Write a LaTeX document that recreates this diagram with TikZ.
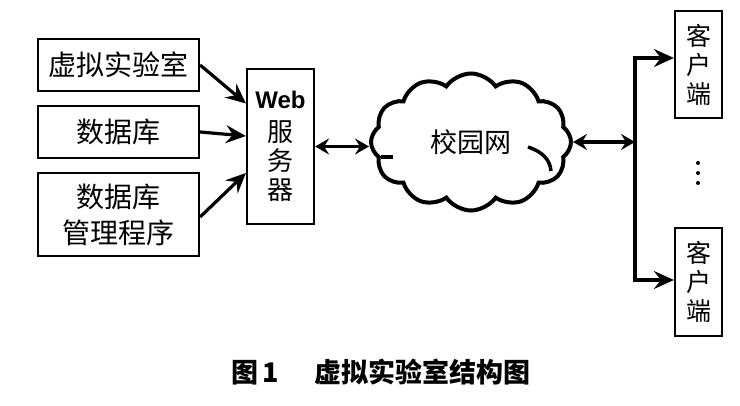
\documentclass[tikz,border=0pt]{standalone}
\usepackage{fontspec}
\setmainfont{Noto Sans CJK SC}
\newfontfamily\webfont{Liberation Sans}
\usetikzlibrary{arrows.meta,shapes.symbols}
\begin{document}
\begin{tikzpicture}[x=1pt,y=-1pt,
  box/.style={draw,line width=2.2pt,inner sep=0pt,align=center},
  big/.style={font=\fontsize{28}{36}\selectfont},
  cli/.style={font=\fontsize{25}{29}\selectfont},
  arr/.style={line width=3.2pt,-{Stealth[length=20pt,width=18pt,inset=7pt]}},
  darr/.style={line width=3.2pt,{Stealth[length=14pt,width=16pt,inset=5pt]}-{Stealth[length=14pt,width=16pt,inset=5pt]}},
  cloudnode/.style={cloud,draw,line width=4pt,cloud puffs=12,cloud puff arc=110,aspect=1.45,minimum width=200pt,minimum height=137pt,inner sep=0pt,font=\fontsize{27}{30}\selectfont}]
\useasboundingbox (0,0) rectangle (740,406);
\fill[white] (0,0) rectangle (740,406);
% left boxes
\node[box,big,minimum width=161pt,minimum height=52pt] (lab) at (118.5,65) {虚拟实验室};
\node[box,big,minimum width=161pt,minimum height=52pt] (db) at (118.5,132) {数据库};
\node[box,big,minimum width=161pt,minimum height=83pt] (mgr) at (118.5,214.5) {数据库\\管理程序};
% web server
\node[box,minimum width=67pt,minimum height=155pt,font=\fontsize{26}{29}\selectfont] (web) at (280.5,146.5)
  {{\webfont\bfseries\fontsize{24}{24}\selectfont Web}\\[4pt]服\\务\\器};
% cloud
\node[cloudnode] (net) at (471,142) {校园网};
\draw[line width=3.5pt] (381,157) -- (393,157);
\draw[line width=3.5pt] (528,147) .. controls (543,152) and (550,160) .. (551,171);
% clients
\node[box,cli,minimum width=47pt,minimum height=107pt] (c1) at (698.5,64.5) {客\\户\\端};
\node[box,cli,minimum width=47pt,minimum height=108pt] (c2) at (698.5,282) {客\\户\\端};
\coordinate (bus) at (635,142);
% dots
\fill (698,163) circle (2pt) (698,173) circle (2pt) (698,183) circle (2pt);
% connectors
\draw[arr] (lab.east) -- ([yshift=43pt]web.west);
\draw[arr] (db.east) -- ([yshift=10.5pt]web.west);
\draw[arr] ([yshift=-2.5pt]mgr.east) -- ([yshift=-26.5pt]web.west);
\draw[darr] (web.east) -- (web.east -| net.west);
\draw[darr] (net.east) -- (bus);
\draw[arr] (bus) |- ([yshift=6.5pt]c1.west);
\draw[arr] (bus) |- ([yshift=2pt]c2.west);
% caption
\node[font=\fontsize{27}{30}\selectfont\bfseries] (cap) at (381,372) {图\,1\hspace{1.3em}虚拟实验室结构图};
\end{tikzpicture}
\end{document}
